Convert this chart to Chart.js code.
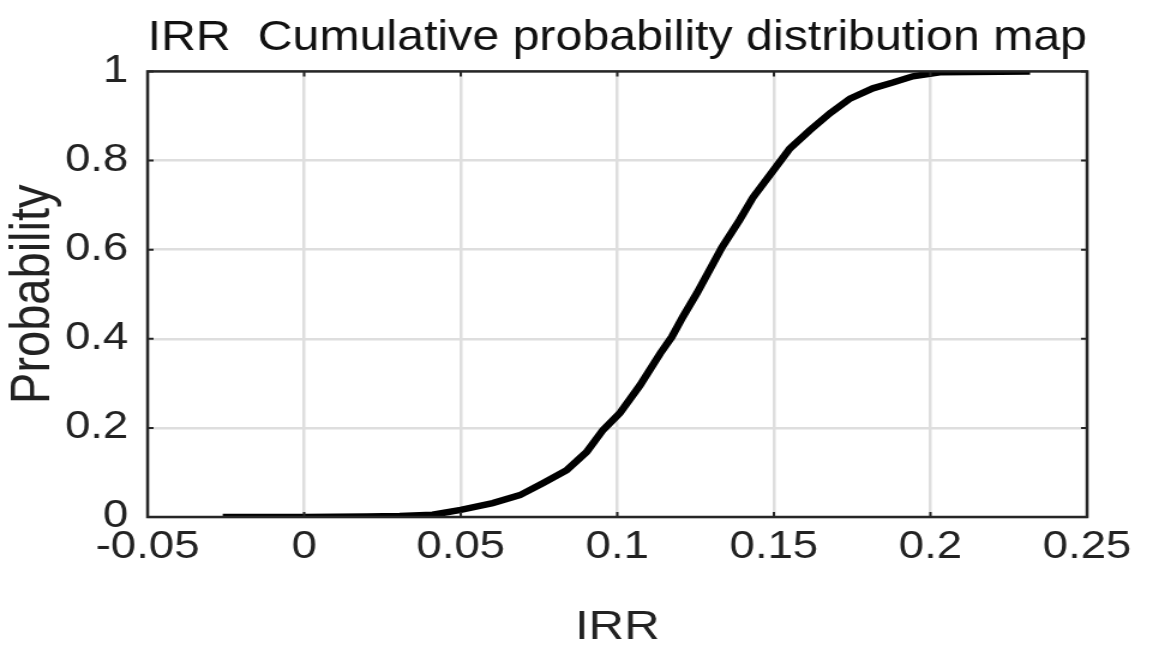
<!DOCTYPE html>
<html>
<head>
<meta charset="utf-8">
<script src="https://cdn.jsdelivr.net/npm/chart.js@4.4.1/dist/chart.umd.min.js"></script>
<style>
  html, body { margin: 0; padding: 0; background: #fff; overflow: hidden; }
  #wrap { width: 961px; height: 648px; transform: scale(1.1998, 1); transform-origin: 0 0; }
</style>
</head>
<body>
<div id="wrap"><canvas id="cdf" width="961" height="648"></canvas></div>
<script>
const irrValues  = [-0.026, 0.0, 0.02, 0.0305, 0.041, 0.05, 0.0602, 0.0689, 0.0762, 0.0838, 0.0902, 0.0954, 0.1008, 0.1072, 0.1137, 0.1174, 0.121, 0.1254, 0.1334, 0.139, 0.1433, 0.1506, 0.1551, 0.1615, 0.1679, 0.1743, 0.1816, 0.188, 0.1944, 0.203, 0.2318];
const probValues = [0, 0, 0.001, 0.002, 0.005, 0.016, 0.031, 0.049, 0.076, 0.105, 0.146, 0.195, 0.233, 0.295, 0.367, 0.404, 0.45, 0.502, 0.605, 0.666, 0.717, 0.785, 0.827, 0.868, 0.906, 0.939, 0.962, 0.975, 0.989, 0.998, 1.0];

const xTicks = [-0.05, 0, 0.05, 0.1, 0.15, 0.2, 0.25];
const yTicks = [0, 0.2, 0.4, 0.6, 0.8, 1];

const fontFamily = "'Liberation Sans', Arial, sans-serif";
const ink = '#262626';

// box around the axes plus inward tick marks, like the original plot
const axesBox = {
    id: 'axesBox',
    afterDatasetsDraw(chart) {
        const { ctx, chartArea: a, scales } = chart;
        ctx.save();
        ctx.strokeStyle = ink;
        ctx.lineWidth = 2.5;
        ctx.strokeRect(a.left, a.top, a.right - a.left, a.bottom - a.top);
        ctx.lineWidth = 2;
        ctx.beginPath();
        xTicks.forEach(v => {
            const px = scales.x.getPixelForValue(v);
            ctx.moveTo(px, a.bottom); ctx.lineTo(px, a.bottom - 5);
            ctx.moveTo(px, a.top); ctx.lineTo(px, a.top + 5);
        });
        yTicks.forEach(v => {
            const py = scales.y.getPixelForValue(v);
            ctx.moveTo(a.left, py); ctx.lineTo(a.left + 5, py);
            ctx.moveTo(a.right, py); ctx.lineTo(a.right - 5, py);
        });
        ctx.stroke();
        ctx.restore();
    }
};

new Chart(document.getElementById('cdf'), {
    type: 'line',
    data: {
        datasets: [{
            data: irrValues.map((x, i) => ({ x: x, y: probValues[i] })),
            borderColor: '#000',
            borderWidth: 6.5,
            pointRadius: 0,
            tension: 0,
            fill: false
        }]
    },
    options: {
        responsive: false,
        animation: false,
        layout: { padding: { left: 0, right: 55, top: 0, bottom: 0 } },
        plugins: {
            legend: { display: false },
            tooltip: { enabled: false },
            title: {
                display: true,
                text: 'IRR  Cumulative probability distribution map',
                fullSize: false,
                color: '#111',
                font: { family: fontFamily, size: 42, weight: 'normal' },
                padding: { top: 13, bottom: 8 }
            }
        },
        scales: {
            x: {
                type: 'linear',
                min: -0.05,
                max: 0.25,
                afterBuildTicks: s => { s.ticks = xTicks.map(v => ({ value: v })); },
                afterFit: s => { s.height = 131; },
                ticks: {
                    callback: v => String(parseFloat(v.toFixed(2))),
                    color: '#222',
                    padding: 8,
                    maxRotation: 0,
                    font: { family: fontFamily, size: 38 }
                },
                grid: { color: '#dedede', lineWidth: 2.5, drawTicks: false },
                border: { display: false },
                title: {
                    display: true,
                    text: 'IRR',
                    color: '#222',
                    font: { family: fontFamily, size: 41, lineHeight: 1 },
                    padding: { top: 0, bottom: 0 }
                }
            },
            y: {
                type: 'linear',
                min: 0,
                max: 1,
                afterBuildTicks: s => { s.ticks = yTicks.map(v => ({ value: v })); },
                afterFit: s => { s.width = 123; },
                ticks: {
                    callback: v => String(parseFloat(v.toFixed(1))),
                    color: '#222',
                    padding: 16,
                    font: { family: fontFamily, size: 38 }
                },
                grid: { color: '#dedede', lineWidth: 2.5, drawTicks: false },
                border: { display: false },
                title: {
                    display: true,
                    text: 'Probability',
                    color: '#222',
                    font: { family: fontFamily, size: 47, lineHeight: 1 },
                    padding: { top: 5, bottom: 0 }
                }
            }
        }
    },
    plugins: [axesBox]
});
</script>
</body>
</html>
